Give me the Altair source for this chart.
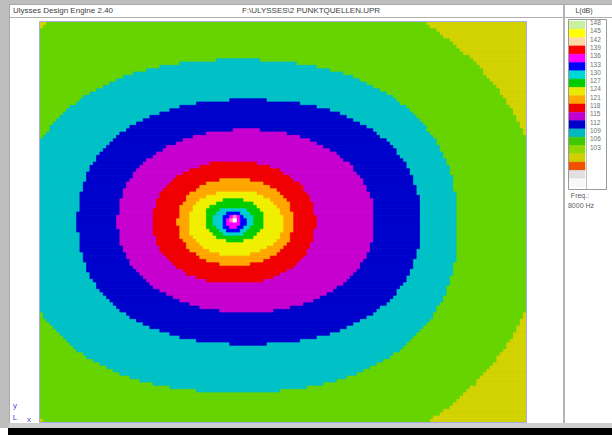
import altair as alt
import pandas as pd
import numpy as np

# ------------------------------------------------------------------
# Values
# ------------------------------------------------------------------
# Heat-map level bands, outermost first. Each band is the region inside an
# outline (centre / half-axes / roundness exponent, plot units, origin = top-left of map).
band_levels = ["103", "106", "109", "112", "115", "118", "121", "124",
               "127", "130", "133", "136", "139", "142"]
band_colors = ["#D2D200", "#66D400", "#00C0C8", "#0000CC", "#C800D0", "#F00000",
               "#FFA800", "#F0F000", "#00CC00", "#00D0D0", "#0000FF", "#FF00FF",
               "#FF80C0", "#FFFFFF"]
band_cx = [243, 196, 198, 209, 206, 194, 195.5, 195.5, 194, 193, 193.5, 193.5, 194, 194]
band_cy = [200, 201.5, 204, 200, 199, 200.5, 200, 201, 198, 199, 200, 199.5, 198, 198]
band_rx = [999, 308, 219, 171, 128, 81, 57.5, 47, 29, 20, 12, 7, 4, 1.8]
band_ry = [999, 253, 166, 122, 91, 61, 43, 32, 21, 14, 10, 6.5, 3.5, 1.8]
band_p = [2, 2, 2.3, 2.25, 2.1, 2.1, 2.1, 2.1, 2.05, 2, 2, 2, 2, 2]

map_width = 486          # plot units across the map
map_height = 400         # plot units down the map
grid_nx = 146            # computation cells across
grid_ny = 120            # computation cells down

# Colour legend (top to bottom) and its labels
legend_colors = ["#C8F0A0", "#FFFF00", "#FFD8A8", "#FF0000", "#FF00FF", "#0000FF",
                 "#00D8D8", "#00CC00", "#E8E800", "#FFA800", "#F00000", "#C000D0",
                 "#0000CC", "#00B8C0", "#40C800", "#90D800", "#D0D000", "#F05000",
                 "#E0E0E0", "#F8F8F8"]
legend_labels = ["148", "145", "142", "139", "136", "133", "130", "127",
                 "124", "121", "118", "115", "112", "109", "106", "103"]

title_left = "Ulysses Design Engine 2.40"
title_center = "F:\\ULYSSES\\2 PUNKTQUELLEN.UPR"
unit_label = "L(dB)"
freq_lines = ["Freq.:", "8000 Hz"]

# ------------------------------------------------------------------
# Build the map cells (row spans of each band, drawn outer to inner)
# ------------------------------------------------------------------
cw = map_width / grid_nx
ch = map_height / grid_ny
rows = []
for k, lev in enumerate(band_levels):
    cx, cy, rx, ry, p = band_cx[k], band_cy[k], band_rx[k], band_ry[k], band_p[k]
    for j in range(grid_ny):
        yc = (j + 0.5) * ch
        t = abs(yc - cy) / ry
        if t > 1:
            continue
        d = rx * (1 - t ** p) ** (1.0 / p)
        i0 = int(np.ceil((cx - d) / cw - 0.5))
        i1 = int(np.floor((cx + d) / cw - 0.5))
        i0 = max(i0, 0)
        i1 = min(i1, grid_nx - 1)
        if i1 < i0:
            continue
        rows.append({"level": lev, "order": k,
                     "x": i0 * cw, "x2": (i1 + 1) * cw,
                     "y": j * ch, "y2": (j + 1) * ch})
cells = pd.DataFrame(rows)

W, H = 612, 435
PX0, PX1, PY0, PY1 = 40, 526, 22, 422

lev_scale = alt.Scale(domain=band_levels, range=band_colors)
heat = alt.Chart(cells).mark_rect(strokeWidth=0.7).encode(
    x=alt.X("x:Q", scale=alt.Scale(domain=[0, map_width], range=[PX0, PX1], nice=False, zero=False), axis=None),
    x2="x2:Q",
    y=alt.Y("y:Q", scale=alt.Scale(domain=[0, map_height], range=[PY0, PY1], nice=False, zero=False), axis=None),
    y2="y2:Q",
    color=alt.Color("level:N", scale=lev_scale, legend=None),
    stroke=alt.Stroke("level:N", scale=lev_scale, legend=None),
    order=alt.Order("order:Q"),
)

# Legend swatches
leg_df = pd.DataFrame({"idx": list(range(len(legend_colors))),
                       "idx2": [i + 1 for i in range(len(legend_colors))],
                       "key": [str(i) for i in range(len(legend_colors))]})
leg_scale_y = alt.Scale(domain=[0, len(legend_colors)], range=[21, 187], nice=False, zero=False)
leg = alt.Chart(leg_df).mark_rect(strokeWidth=0.5).encode(
    x=alt.value(569), x2=alt.value(585),
    y=alt.Y("idx:Q", scale=leg_scale_y, axis=None), y2="idx2:Q",
    color=alt.Color("key:N", scale=alt.Scale(domain=leg_df["key"].tolist(), range=legend_colors), legend=None),
    stroke=alt.Stroke("key:N", scale=alt.Scale(domain=leg_df["key"].tolist(), range=legend_colors), legend=None),
)
lab_df = pd.DataFrame({"pos": [i + 0.25 for i in range(len(legend_labels))], "label": legend_labels})
labs = alt.Chart(lab_df).mark_text(font="Liberation Sans", fontSize=6.5, align="left",
                                   baseline="middle", color="#707070").encode(
    x=alt.value(590),
    y=alt.Y("pos:Q", scale=leg_scale_y, axis=None),
    text="label:N",
)

def box(x, x2, y, y2, fill, stroke=None, sw=1):
    kw = {"fill": fill}
    if stroke is not None:
        kw.update({"stroke": stroke, "strokeWidth": sw})
    if fill is None:
        kw = {"fill": "transparent", "stroke": stroke, "strokeWidth": sw}
    return alt.Chart(pd.DataFrame({"a": [0]})).mark_rect(**kw).encode(
        x=alt.value(x), x2=alt.value(x2), y=alt.value(y), y2=alt.value(y2))

def txt(s, x, y, size=8, align="left", color="#404040"):
    return alt.Chart(pd.DataFrame({"t": [s]})).mark_text(
        font="Liberation Sans", fontSize=size, align=align, baseline="middle", color=color
    ).encode(x=alt.value(x), y=alt.value(y), text="t:N")

chrome_back = [
    box(0, W, 0, H, "#FFFFFF"),
    box(0, W, 0, 4, "#BEBEBE"),
    box(0, 9, 0, 428, "#BEBEBE"),
    box(9, W, 423, 428, "#CFCFCF"),
    box(8, W, 428, H, "#000000"),
    box(9, W, 4, 5, "#A8A8A8"),
    box(9, W, 17, 18, "#B0B0B0"),
    box(9, 10, 4, 423, "#A8A8A8"),
    box(563, 565, 4, 423, "#B4B4B4"),
]
chrome_front = [
    box(PX0 - 0.5, PX1 + 0.5, PY0 - 0.5, PY1 + 0.5, None, "#A8A8F0", 1),
    box(568.5, 606.5, 19.5, 189.5, None, "#9A9A9A", 1),
    box(586, 586.8, 19.5, 189.5, "#B0B0B0"),
    txt(title_left, 13, 11, 8),
    txt(title_center, 311, 11, 8, "center"),
    txt(unit_label, 584, 11, 7, "center"),
    txt(freq_lines[0], 580, 196, 7, "center", "#606060"),
    txt(freq_lines[1], 581, 206, 7, "center", "#606060"),
    txt("y", 15, 406, 8, "center", "#4848E0"),
    txt("L", 15, 418, 8, "center", "#4848E0"),
    txt("x", 29, 420, 8, "center", "#4848E0"),
]

chart = alt.layer(*chrome_back, heat, leg, labs, *chrome_front).resolve_scale(
    x="independent", y="independent", color="independent", stroke="independent"
).properties(
    width=W, height=H, padding=0, autosize=alt.AutoSizeParams(type="none"),
    background="#FFFFFF",
).configure_view(stroke=None)

chart.save("out.html", embed_options={"renderer": "svg", "actions": False})
